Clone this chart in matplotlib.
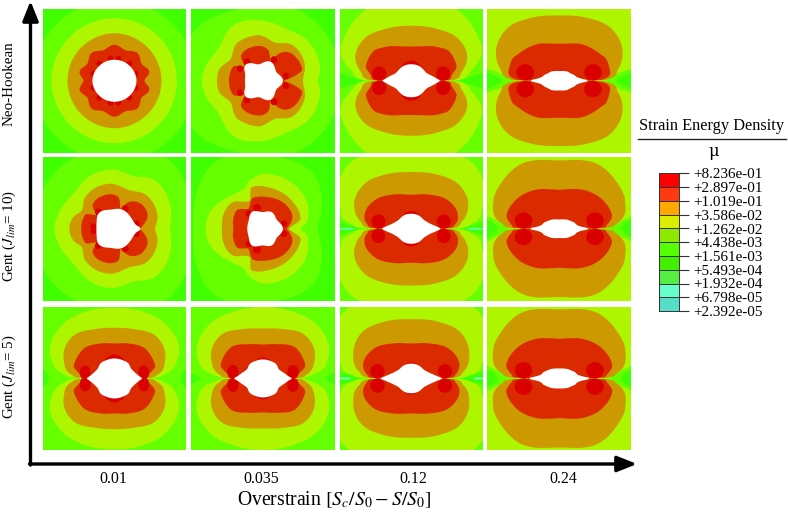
import numpy as np
import matplotlib
matplotlib.use("Agg")
import matplotlib.pyplot as plt
from matplotlib.colors import ListedColormap
from matplotlib.patches import Ellipse

plt.rcParams['font.family'] = ['Liberation Serif', 'DejaVu Serif']
plt.rcParams['mathtext.fontset'] = 'stix'

W, H = 788, 515

col_labels = ["0.01", "0.035", "0.12", "0.24"]
row_labels = ["Neo-Hookean", r"Gent ($J_{lim}$= 10)", r"Gent ($J_{lim}$= 5)"]

legend_ticks = ["+2.392e-05", "+6.798e-05", "+1.932e-04", "+5.493e-04", "+1.561e-03", "+4.438e-03",
                "+1.262e-02", "+3.586e-02", "+1.019e-01", "+2.897e-01", "+8.236e-01"]
legend_colors = ["#55dfc8", "#66ffcc", "#55ee44", "#44ee00", "#55ff00", "#8fe800",
                 "#dcee00", "#ffa800", "#ff3a10", "#ff0000"]

# contour colours, outermost to innermost
c_bg = "#40ff00"
c_l1 = "#66ff00"
c_l2 = "#aef500"
c_l3 = "#cc9900"
c_l4 = "#dc2a00"
c_l5 = "#d90000"
c_far = "#70ffc0"

# digitised contours: (angle deg, radius px) over the top half.
# angles that stop at 90 are mirrored left/right as well
p00 = dict(
    l1=[(0, 81), (90, 81), (180, 81)],
    l2=[(0, 62.5), (45, 62.5), (90, 62.5), (135, 62.5), (180, 63)],
    l3=[(0, 47), (45, 47), (90, 47.5), (135, 47), (180, 47)],
    l4=[(0, 30), (14, 36), (32, 32), (50, 36), (70, 32.5), (90, 36), (110, 32.5), (130, 36), (148, 32), (166, 36), (180, 31)],
    hole=[(0, 22), (45, 21.3), (90, 21), (135, 21.3), (180, 22)],
    spots=[(21, 7, 6, 6), (15, 17, 6, 6), (4, 22, 6, 6), (-4, 22, 6, 6), (-15, 17, 6, 6), (-21, 7, 6, 6)],
)
p01 = dict(
    l1=[(0, 78), (65, 79), (110, 76), (147, 85), (180, 80)],
    l2=[(0, 55), (10, 58), (40, 60), (65, 57), (90, 60), (115, 63), (147, 55), (165, 59), (180, 61)],
    l3=[(0, 40), (22, 45), (49, 46.5), (72, 40), (98, 46), (122, 46), (148, 39), (165, 45), (180, 46)],
    l4=[(0, 21), (5, 27), (17, 41), (40, 40), (60, 31), (68, 21.5), (80, 31), (109, 35.5), (131, 33.5), (141, 24), (155, 33), (180, 34)],
    hole=[(0, 20), (33, 16), (68, 20.5), (105, 17), (140, 23.5), (160, 19), (180, 18)],
    spots=[(-16, 19, 7, 7), (11, 21, 7, 7), (23, 5, 6, 7), (-23, 12, 6, 7)],
)
p02 = dict(
    l1=[(0, 48), (6.4, 72), (12, 100), (45, 120), (90, 110)],
    l2=[(0, 28), (0.5, 43.5), (4.7, 56), (8.4, 59.3), (18.8, 73.6), (38, 81), (57.5, 84.5), (90, 86)],
    l3=[(0, 28), (1, 42), (9.8, 51), (23, 60.8), (39.6, 63.2), (64, 57.8), (90, 55)],
    l4=[(0, 28), (1.5, 38), (7.5, 40.7), (18.7, 47.8), (36.5, 48.2), (51, 43.2), (76, 35.4), (90, 34.3)],
    rim=[(0, 20), (40, 15), (60, 18), (75, 19.5), (90, 20)],
    hole=[(0, 28.5), (5, 25.5), (11, 22.4), (27, 17.2), (45, 16.5), (59, 16.7), (90, 16.5)],
    spots=[(32, 7.2, 14.3, 14.3), (-32, 7.2, 14.3, 14.3)],
)
p03 = dict(
    l1=[(0, 57.5), (6.5, 72), (12, 100), (45, 120), (90, 110)],
    l2=[(0, 28), (0.5, 46.8), (5, 50), (9.7, 73), (15, 100), (45, 120), (90, 110)],
    l3=[(0, 28), (1, 46), (11.5, 60.2), (23, 68.8), (44.8, 73.8), (66.6, 68.7), (90, 65.3)],
    l4=[(0, 28), (1.5, 43), (11.5, 51.7), (24, 51.8), (33.5, 48.8), (60, 42.5), (78, 38), (90, 37)],
    hole=[(0, 28.5), (5, 22.6), (24, 15.4), (51, 12), (90, 9.7)],
    spots=[(33.8, 8.4, 17.7, 16.3), (-34, 8.4, 17.7, 16.3)],
)
p10 = dict(
    l1=[(0, 72), (31, 84), (51, 88), (90, 78), (120, 82), (151, 82), (180, 76)],
    l2=[(0, 55.7), (20, 60), (50, 63), (70, 56), (92, 59.3), (115, 58), (139.5, 54), (160, 57), (180, 60)],
    l3=[(0, 40.7), (15, 44.6), (46, 46.4), (68, 41.4), (95.5, 45.2), (133, 43), (151, 37.5), (165, 43), (180, 45)],
    l4=[(0, 26), (5, 28), (19.5, 35), (35, 37), (50, 35), (65, 28), (72, 21), (83, 32), (108, 35), (133, 32), (142, 23), (154.5, 32.5), (180, 33.3)],
    hole=[(0, 26), (10, 22), (32, 20), (69, 20.7), (100, 19.5), (137, 22), (160, 19), (180, 18)],
    spots=[(-16, 16.7, 7, 7), (10.7, 20, 7, 7), (22.3, 5, 6, 7), (-21, 2.5, 6, 6)],
)
p11 = dict(
    l1=[(0, 55), (25, 65), (50, 75), (90, 73), (130, 82), (150, 76), (180, 70)],
    l2=[(0, 38), (8, 44), (18, 47.7), (35, 52), (56, 54.3), (86, 55), (105, 50), (117, 44), (130, 45), (148, 50.6), (165, 56), (180, 57)],
    l3=[(0, 26), (6, 30), (15, 39), (48, 40.4), (80, 41.6), (105, 43.2), (114.7, 31.2), (125, 33), (138, 40), (160, 42), (180, 41)],
    l4=[(0, 24), (8, 27), (24, 32.2), (44.5, 33.2), (83.3, 32), (107, 32.5), (126, 24.8), (145, 32), (165, 31), (180, 29.6)],
    hole=[(0, 20), (33, 16.5), (62, 18.8), (92, 16.7), (124, 20), (150, 16.5), (180, 15.7)],
    spots=[(-6, 20.7, 8, 8), (-14, 15, 7, 7), (21, 5, 7, 7)],
)
p12 = dict(
    l1=[(0, 52), (5.6, 72), (12, 100), (45, 120), (90, 110)],
    l2=[(0, 28), (0.5, 43.5), (4.7, 60.5), (17, 74.5), (46, 89.8), (65, 85), (90, 82)],
    l3=[(0, 28), (1, 42), (7.6, 50.7), (22, 61.6), (41.6, 65), (65, 60), (90, 56.7)],
    l4=[(0, 28), (1.5, 39.5), (5.6, 44), (18, 48.9), (37, 46.6), (61, 39), (90, 34)],
    rim=[(0, 20), (40, 14), (60, 16), (75, 17.3), (90, 17.7)],
    hole=[(0, 29), (5, 25.5), (11, 21.5), (27, 16.5), (45, 15.2), (59, 15.3), (90, 15)],
    spots=[(32.5, 7.2, 14, 14.3), (-32.9, 7.2, 14, 14.3)],
    far=[(64, 0, 16, 1.8), (-64, 0, 16, 1.8)],
)
p13 = dict(
    l1=[(0, 62), (7, 72), (13, 100), (45, 120), (90, 110)],
    l2=[(0, 28), (0.5, 50), (3, 53), (10, 73), (15, 100), (45, 120), (90, 110)],
    l3=[(0, 28), (1, 48.5), (5, 57.5), (23, 71.5), (39, 74), (57, 75.3), (90, 68.3)],
    l4=[(0, 28), (1.5, 45.5), (4, 47.4), (14, 54.3), (32.7, 52.3), (58, 45.8), (80, 40), (90, 39)],
    hole=[(0, 29), (5, 22.6), (24, 16), (51, 11.8), (90, 9.3)],
    spots=[(35.8, 8.2, 17.7, 16.3), (-35.8, 8.2, 17.7, 16.3)],
)
p20 = dict(
    l1=[(0, 66), (7, 72), (12, 100), (45, 120), (90, 110)],
    l2=[(0, 27), (0.5, 39), (4, 49), (17.5, 66.4), (45.5, 74.7), (66.5, 72.7), (90, 70.7)],
    l3=[(0, 27), (1, 35.7), (4.5, 42.4), (20, 53.9), (44.6, 59.4), (69, 52.9), (90, 50.7)],
    l4=[(0, 27), (1.5, 33), (5.5, 34), (18, 42.8), (41, 43), (68, 37.7), (90, 35)],
    rim=[(0, 20), (20, 20), (40, 20), (60, 21), (90, 24)],
    hole=[(0, 27.5), (5, 25), (11, 22.7), (30, 19.5), (47, 20.5), (70, 20), (90, 20)],
    spots=[(29.3, 6, 11, 14), (-29.3, 6, 11, 14)],
)
p21 = dict(
    l1=[(0, 63), (4.5, 72), (10, 100), (45, 120), (90, 110)],
    l2=[(0, 28), (0.5, 40), (2, 44), (6.8, 56.7), (18, 69), (45.5, 76), (66.5, 73), (90, 71.7)],
    l3=[(0, 28), (1, 37), (4.5, 43), (20, 55), (44.6, 60.5), (69, 53), (90, 50)],
    l4=[(0, 28), (1.5, 34), (5.5, 35), (18, 44.5), (41, 45), (68, 37), (90, 34)],
    rim=[(0, 20), (30, 19), (60, 19), (90, 21)],
    hole=[(0, 28.7), (5, 25.5), (11, 23), (30, 18.5), (47, 19.5), (70, 19), (90, 19)],
    spots=[(30, 6.5, 11.5, 14), (-30, 6.5, 11.5, 14)],
)
p22 = dict(
    l1=[(0, 50), (5.5, 72), (12, 100), (45, 120), (90, 110)],
    l2=[(0, 29), (0.5, 45.5), (3.2, 58.9), (13, 73.2), (40.8, 94.3), (49, 94.8), (70, 90), (90, 90)],
    l3=[(0, 29), (1, 42.8), (7.3, 52.4), (23.3, 63.2), (41.8, 67.5), (64.5, 62.8), (90, 59.3)],
    l4=[(0, 29), (1.5, 41.5), (4.3, 44), (17.3, 50.4), (36.9, 48.3), (61.7, 39.7), (90, 35)],
    rim=[(0, 20), (40, 13), (60, 15), (75, 15.7), (90, 16)],
    hole=[(0, 30.5), (5, 26), (11, 22), (27, 16.5), (45, 15), (59, 15), (90, 14.8)],
    spots=[(33.8, 7.2, 14.5, 14.3), (-33.8, 7.2, 14.5, 14.3)],
    far=[(67, 0, 10, 2.4), (-66, 0, 12, 2.4)],
)
p23 = dict(
    l1=[(0, 62), (7, 72), (13, 100), (45, 120), (90, 110)],
    l2=[(0, 29), (0.5, 50), (3, 53), (10, 73), (15, 100), (45, 120), (90, 110)],
    l3=[(0, 29), (1, 48.5), (5, 57.5), (23, 71.8), (39, 74.5), (57, 76), (90, 69)],
    l4=[(0, 29), (1.5, 45.5), (4, 47.4), (14, 54.6), (32.7, 52.8), (58, 46.3), (80, 40.7), (90, 39.7)],
    hole=[(0, 30), (5, 23.5), (24, 16.5), (51, 12.3), (90, 10)],
    spots=[(35.8, 8.2, 17.7, 16.3), (-35.8, 8.2, 17.7, 16.3)],
)
panels = [[p00, p01, p02, p03], [p10, p11, p12, p13], [p20, p21, p22, p23]]

col_lefts = [42.7, 191.2, 339.5, 487.5]
row_tops = [9, 157, 306.7]
panel_size = 143.5


def px_axes(left, top, w, h):
    return fig.add_axes([left / W, 1 - (top + h) / H, w / W, h / H])


def outline(pairs):
    a = np.array([p[0] for p in pairs], float)
    r = np.array([p[1] for p in pairs], float)
    if a.max() <= 90:
        a = np.r_[a, 180 - a[-2::-1]]
        r = np.r_[r, r[-2::-1]]
    # cubic through r(angle), flat at both ends of the half, slopes limited
    d = np.diff(a)
    s = np.diff(r) / d
    m = np.zeros(len(a))
    for i in range(1, len(a) - 1):
        p_m = (d[i] * s[i - 1] + d[i - 1] * s[i]) / (d[i] + d[i - 1])
        lim = min(abs(s[i - 1]), abs(s[i]))
        if s[i - 1] * s[i] > 0:
            m[i] = np.sign(p_m) * min(abs(p_m), 3 * lim)
        else:
            m[i] = np.sign(p_m) * min(abs(p_m), lim)
    th, rr = [], []
    for i in range(len(a) - 1):
        for t in np.linspace(0, 1, 14, endpoint=False):
            h00 = 2 * t**3 - 3 * t**2 + 1
            h10 = t**3 - 2 * t**2 + t
            h01 = -2 * t**3 + 3 * t**2
            h11 = t**3 - t**2
            th.append(a[i] + t * d[i])
            rr.append(h00 * r[i] + h10 * d[i] * m[i] + h01 * r[i + 1] + h11 * d[i] * m[i + 1])
    th = np.radians(np.r_[th, 180.0])
    rr = np.r_[rr, r[-1]]
    x = rr * np.cos(th)
    y = rr * np.sin(th)
    return np.r_[x, x[-2:0:-1]], np.r_[y, -y[-2:0:-1]]


fig = plt.figure(figsize=(W / 100, H / 100), dpi=100)

for i, row in enumerate(panels):
    for j, p in enumerate(row):
        ax = px_axes(col_lefts[j], row_tops[i], panel_size, panel_size)
        ax.set_xlim(-panel_size / 2, panel_size / 2)
        ax.set_ylim(-panel_size / 2, panel_size / 2)
        ax.axis("off")
        ax.add_patch(plt.Rectangle((-72, -72), 144, 144, color=c_bg, lw=0))
        for sx, sy, sw, sh in p.get("far", []):
            ax.add_patch(Ellipse((sx, sy), sw, sh, color=c_far, lw=0))
        ax.fill(*outline(p["l1"]), color=c_l1, lw=0)
        ax.fill(*outline(p["l2"]), color=c_l2, lw=0)
        ax.fill(*outline(p["l3"]), color=c_l3, lw=0)
        ax.fill(*outline(p["l4"]), color=c_l4, lw=0)
        for sx, sy, sw, sh in p["spots"]:
            ax.add_patch(Ellipse((sx, sy), sw, sh, color=c_l5, lw=0))
            ax.add_patch(Ellipse((sx, -sy), sw, sh, color=c_l5, lw=0))
        if "rim" in p:
            ax.fill(*outline(p["rim"]), color=c_l5, lw=0)
        ax.fill(*outline(p["hole"]), color="white", lw=0)

# overlay in pixel coordinates for the arrows and text
ov = fig.add_axes([0, 0, 1, 1], zorder=5)
ov.set_xlim(0, W)
ov.set_ylim(H, 0)
ov.axis("off")

head = "-|>,head_length=0.8,head_width=0.32"
ov.annotate("", xy=(30.5, 1), xytext=(30.5, 465), arrowprops=dict(arrowstyle=head, mutation_scale=15, lw=2.4, color="k", shrinkA=0, shrinkB=0))
ov.annotate("", xy=(637, 464), xytext=(29.5, 464), arrowprops=dict(arrowstyle=head, mutation_scale=15, lw=2.4, color="k", shrinkA=0, shrinkB=0))

for x, s in zip([113, 261, 413, 563], col_labels):
    ov.text(x, 479, s, ha="center", va="center", fontsize=11.5)
for y, s in zip([84, 236, 377], row_labels):
    ov.text(9, y, s, ha="center", va="center", rotation=90, fontsize=10.8)
ov.text(334, 505, r"Overstrain $[S_c/S_\mathit{0} - S/S_\mathit{0}]$", ha="center", va="baseline", fontsize=14.2)

ov.text(712, 126, "Strain Energy Density", ha="center", va="center", fontsize=11.8)
ov.plot([638, 786], [139, 139], color="#222222", lw=1)
ov.text(714, 152, "\u03bc", ha="center", va="center", fontsize=11.6, family="DejaVu Serif")

# legend strip
lg = px_axes(658.5, 173.5, 20.5, 137.5)
lg.pcolormesh([0, 1], np.arange(11), np.arange(10).reshape(-1, 1), cmap=ListedColormap(legend_colors), edgecolors="#333333", linewidth=0.5)
lg.set_xlim(0, 1)
lg.set_ylim(0, 10)
lg.set_xticks([])
lg.yaxis.tick_right()
lg.set_yticks(np.arange(11))
lg.set_yticklabels(legend_ticks, fontsize=10.9)
lg.tick_params(axis="y", length=7, width=0.8, pad=3, color="#333333")
for s in lg.spines.values():
    s.set_linewidth(0.7)
    s.set_color("#333333")

fig.savefig("out.png", dpi=100)
